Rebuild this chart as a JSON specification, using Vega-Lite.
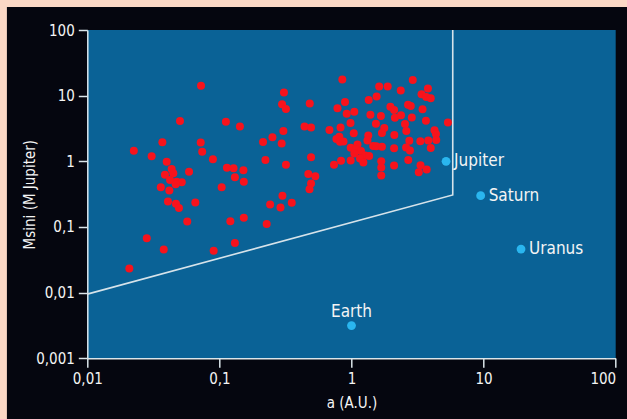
{
  "$schema": "https://vega.github.io/schema/vega-lite/v6.json",
  "width": 528.4,
  "height": 328.3,
  "autosize": {"type": "none"},
  "padding": {"left": 87.3, "top": 30, "right": 11.3, "bottom": 60.7},
  "background": "#05060f",
  "config": {
    "view": {"stroke": null, "fill": "#0a6296"},
    "font": "DejaVu Sans Condensed, DejaVu Sans, sans-serif",
    "axis": {
      "grid": false,
      "domainColor": "#dbe5ea",
      "domainWidth": 1.5,
      "tickColor": "#dbe5ea",
      "tickWidth": 1.5,
      "tickSize": 9,
      "labelColor": "#f4f4f4",
      "labelFontSize": 15,
      "labelPadding": 4,
      "labelFlush": false,
      "titleColor": "#f4f4f4",
      "titleFontSize": 15,
      "titleFontWeight": "normal"
    },
    "axisX": {"titlePadding": 9},
    "axisY": {"titlePadding": -2}
  },
  "datasets": {
    "exoplanets": [
      {"a": 0.0208, "m": 0.0234}, {"a": 0.0225, "m": 1.45}, {"a": 0.0282, "m": 0.0672}, {"a": 0.0307, "m": 1.19},
      {"a": 0.037, "m": 1.95}, {"a": 0.0379, "m": 0.0454}, {"a": 0.0399, "m": 0.986}, {"a": 0.0435, "m": 0.763},
      {"a": 0.0387, "m": 0.625}, {"a": 0.0448, "m": 0.657}, {"a": 0.0423, "m": 0.519}, {"a": 0.0475, "m": 0.489},
      {"a": 0.0519, "m": 0.479}, {"a": 0.036, "m": 0.402}, {"a": 0.0418, "m": 0.359}, {"a": 0.0467, "m": 0.446},
      {"a": 0.0503, "m": 4.11}, {"a": 0.0589, "m": 0.695}, {"a": 0.0408, "m": 0.244}, {"a": 0.0469, "m": 0.226},
      {"a": 0.0494, "m": 0.195}, {"a": 0.0657, "m": 0.236}, {"a": 0.0571, "m": 0.121}, {"a": 0.0726, "m": 14.2},
      {"a": 0.0722, "m": 1.93}, {"a": 0.0741, "m": 1.4}, {"a": 0.0893, "m": 1.08}, {"a": 0.0905, "m": 0.0435},
      {"a": 0.112, "m": 4.01}, {"a": 0.143, "m": 3.39}, {"a": 0.114, "m": 0.799}, {"a": 0.128, "m": 0.785},
      {"a": 0.152, "m": 0.732}, {"a": 0.131, "m": 0.571}, {"a": 0.153, "m": 0.488}, {"a": 0.104, "m": 0.402},
      {"a": 0.121, "m": 0.122}, {"a": 0.153, "m": 0.138}, {"a": 0.131, "m": 0.057}, {"a": 0.228, "m": 0.111},
      {"a": 0.242, "m": 0.22}, {"a": 0.29, "m": 0.198}, {"a": 0.353, "m": 0.233}, {"a": 0.3, "m": 0.299},
      {"a": 0.223, "m": 1.05}, {"a": 0.214, "m": 1.97}, {"a": 0.252, "m": 2.33}, {"a": 0.296, "m": 1.87},
      {"a": 0.305, "m": 2.89}, {"a": 0.308, "m": 11.2}, {"a": 0.298, "m": 7.38}, {"a": 0.319, "m": 6.26},
      {"a": 0.319, "m": 0.885}, {"a": 0.483, "m": 7.59}, {"a": 0.441, "m": 3.39}, {"a": 0.494, "m": 3.27},
      {"a": 0.494, "m": 1.15}, {"a": 0.471, "m": 0.641}, {"a": 0.532, "m": 0.591}, {"a": 0.494, "m": 0.459},
      {"a": 0.481, "m": 0.376}, {"a": 0.852, "m": 17.7}, {"a": 0.893, "m": 8.0}, {"a": 0.783, "m": 6.41},
      {"a": 0.92, "m": 5.31}, {"a": 1.05, "m": 5.69}, {"a": 1.35, "m": 8.58}, {"a": 1.55, "m": 9.7},
      {"a": 1.39, "m": 5.13}, {"a": 0.681, "m": 3.0}, {"a": 0.826, "m": 3.27}, {"a": 0.983, "m": 3.83},
      {"a": 1.04, "m": 2.67}, {"a": 0.809, "m": 2.37}, {"a": 1.34, "m": 2.47}, {"a": 1.32, "m": 2.07},
      {"a": 1.46, "m": 1.71}, {"a": 0.769, "m": 2.19}, {"a": 0.818, "m": 1.99}, {"a": 0.87, "m": 2.0},
      {"a": 0.986, "m": 1.61}, {"a": 1.11, "m": 1.8}, {"a": 1.08, "m": 1.52}, {"a": 1.18, "m": 1.44},
      {"a": 1.05, "m": 1.32}, {"a": 1.27, "m": 1.23}, {"a": 1.16, "m": 1.1}, {"a": 0.986, "m": 1.03},
      {"a": 1.23, "m": 0.959}, {"a": 1.36, "m": 1.2}, {"a": 0.833, "m": 1.02}, {"a": 0.737, "m": 0.888},
      {"a": 1.62, "m": 13.8}, {"a": 1.88, "m": 13.8}, {"a": 2.91, "m": 17.3}, {"a": 3.79, "m": 12.8},
      {"a": 2.36, "m": 12.0}, {"a": 3.39, "m": 10.5}, {"a": 3.68, "m": 9.53}, {"a": 3.98, "m": 9.11},
      {"a": 1.97, "m": 6.79}, {"a": 2.1, "m": 6.04}, {"a": 2.68, "m": 7.25}, {"a": 2.81, "m": 6.95},
      {"a": 3.45, "m": 6.19}, {"a": 1.67, "m": 4.9}, {"a": 2.13, "m": 4.61}, {"a": 2.37, "m": 5.04},
      {"a": 2.86, "m": 4.65}, {"a": 3.66, "m": 4.15}, {"a": 5.37, "m": 3.9}, {"a": 1.53, "m": 3.74},
      {"a": 1.77, "m": 3.21}, {"a": 2.54, "m": 3.7}, {"a": 2.6, "m": 2.89}, {"a": 4.25, "m": 2.97},
      {"a": 4.36, "m": 2.61}, {"a": 1.7, "m": 2.7}, {"a": 2.11, "m": 2.52}, {"a": 2.74, "m": 2.06},
      {"a": 3.32, "m": 2.02}, {"a": 3.81, "m": 2.07}, {"a": 4.38, "m": 2.11}, {"a": 1.54, "m": 1.69},
      {"a": 1.7, "m": 1.67}, {"a": 2.1, "m": 1.58}, {"a": 2.59, "m": 1.62}, {"a": 2.77, "m": 1.46},
      {"a": 3.98, "m": 1.59}, {"a": 1.68, "m": 1.0}, {"a": 1.68, "m": 0.805}, {"a": 2.1, "m": 0.863},
      {"a": 2.69, "m": 1.05}, {"a": 3.33, "m": 0.869}, {"a": 3.71, "m": 0.748}, {"a": 3.23, "m": 0.682},
      {"a": 1.68, "m": 0.608}
    ],
    "solarSystem": [
      {"name": "Earth", "a": 1.0, "m": 0.00315},
      {"name": "Jupiter", "a": 5.2, "m": 1.0},
      {"name": "Saturn", "a": 9.5, "m": 0.3},
      {"name": "Uranus", "a": 19.2, "m": 0.046}
    ],
    "detectionLimit": [
      {"step": 1, "a": 0.01, "m": 0.0095},
      {"step": 2, "a": 5.84, "m": 0.307},
      {"step": 3, "a": 5.84, "m": 100}
    ]
  },
  "layer": [
    {
      "description": "light border along the top and left of the figure",
      "data": {"values": [{}]},
      "mark": {"type": "rect", "filled": false, "stroke": "#fbd8c6", "strokeWidth": 14},
      "encoding": {
        "x": {
          "datum": 0.00218, "type": "quantitative",
          "scale": {"type": "log", "domain": [0.01, 100]},
          "axis": {"title": "a (A.U.)", "values": [0.01, 0.1, 1, 10, 100], "labelExpr": "replace(format(datum.value, '~g'), '.', ',')", "labelAlign": {"condition": {"test": "datum.value >= 100", "value": "right"}, "value": "center"}}
        },
        "x2": {"datum": 160},
        "y": {
          "datum": 286, "type": "quantitative",
          "scale": {"type": "log", "domain": [0.001, 100]},
          "axis": {"title": "Msini (M Jupiter)", "values": [0.001, 0.01, 0.1, 1, 10, 100], "labelExpr": "replace(format(datum.value, '~g'), '.', ',')"}
        },
        "y2": {"datum": 0.00005}
      }
    },
    {
      "data": {"name": "detectionLimit"},
      "mark": {"type": "line", "color": "#d6e3ea", "strokeWidth": 1.6},
      "encoding": {
        "x": {
          "field": "a", "type": "quantitative",
          "scale": {"type": "log", "domain": [0.01, 100]},
          "axis": {"title": "a (A.U.)", "values": [0.01, 0.1, 1, 10, 100], "labelExpr": "replace(format(datum.value, '~g'), '.', ',')", "labelAlign": {"condition": {"test": "datum.value >= 100", "value": "right"}, "value": "center"}}
        },
        "y": {
          "field": "m", "type": "quantitative",
          "scale": {"type": "log", "domain": [0.001, 100]},
          "axis": {"title": "Msini (M Jupiter)", "values": [0.001, 0.01, 0.1, 1, 10, 100], "labelExpr": "replace(format(datum.value, '~g'), '.', ',')"}
        },
        "order": {"field": "step"}
      }
    },
    {
      "data": {"name": "exoplanets"},
      "mark": {"type": "circle", "color": "#f7131c", "opacity": 1, "size": 64},
      "encoding": {
        "x": {
          "field": "a", "type": "quantitative",
          "scale": {"type": "log", "domain": [0.01, 100]},
          "axis": {"title": "a (A.U.)", "values": [0.01, 0.1, 1, 10, 100], "labelExpr": "replace(format(datum.value, '~g'), '.', ',')", "labelAlign": {"condition": {"test": "datum.value >= 100", "value": "right"}, "value": "center"}}
        },
        "y": {
          "field": "m", "type": "quantitative",
          "scale": {"type": "log", "domain": [0.001, 100]},
          "axis": {"title": "Msini (M Jupiter)", "values": [0.001, 0.01, 0.1, 1, 10, 100], "labelExpr": "replace(format(datum.value, '~g'), '.', ',')"}
        }
      }
    },
    {
      "data": {"name": "solarSystem"},
      "mark": {"type": "circle", "color": "#2ab6ef", "opacity": 1, "size": 78},
      "encoding": {
        "x": {
          "field": "a", "type": "quantitative",
          "scale": {"type": "log", "domain": [0.01, 100]},
          "axis": {"title": "a (A.U.)", "values": [0.01, 0.1, 1, 10, 100], "labelExpr": "replace(format(datum.value, '~g'), '.', ',')", "labelAlign": {"condition": {"test": "datum.value >= 100", "value": "right"}, "value": "center"}}
        },
        "y": {
          "field": "m", "type": "quantitative",
          "scale": {"type": "log", "domain": [0.001, 100]},
          "axis": {"title": "Msini (M Jupiter)", "values": [0.001, 0.01, 0.1, 1, 10, 100], "labelExpr": "replace(format(datum.value, '~g'), '.', ',')"}
        }
      }
    },
    {
      "data": {"name": "solarSystem"},
      "transform": [{"filter": "datum.name !== 'Earth'"}],
      "mark": {"type": "text", "align": "left", "baseline": "middle", "dx": 8, "color": "#f4f4f4", "fontSize": 17},
      "encoding": {
        "x": {
          "field": "a", "type": "quantitative",
          "scale": {"type": "log", "domain": [0.01, 100]},
          "axis": {"title": "a (A.U.)", "values": [0.01, 0.1, 1, 10, 100], "labelExpr": "replace(format(datum.value, '~g'), '.', ',')", "labelAlign": {"condition": {"test": "datum.value >= 100", "value": "right"}, "value": "center"}}
        },
        "y": {
          "field": "m", "type": "quantitative",
          "scale": {"type": "log", "domain": [0.001, 100]},
          "axis": {"title": "Msini (M Jupiter)", "values": [0.001, 0.01, 0.1, 1, 10, 100], "labelExpr": "replace(format(datum.value, '~g'), '.', ',')"}
        },
        "text": {"field": "name"}
      }
    },
    {
      "data": {"name": "solarSystem"},
      "transform": [{"filter": "datum.name === 'Earth'"}],
      "mark": {"type": "text", "align": "center", "baseline": "middle", "dy": -14, "color": "#f4f4f4", "fontSize": 17},
      "encoding": {
        "x": {
          "field": "a", "type": "quantitative",
          "scale": {"type": "log", "domain": [0.01, 100]},
          "axis": {"title": "a (A.U.)", "values": [0.01, 0.1, 1, 10, 100], "labelExpr": "replace(format(datum.value, '~g'), '.', ',')", "labelAlign": {"condition": {"test": "datum.value >= 100", "value": "right"}, "value": "center"}}
        },
        "y": {
          "field": "m", "type": "quantitative",
          "scale": {"type": "log", "domain": [0.001, 100]},
          "axis": {"title": "Msini (M Jupiter)", "values": [0.001, 0.01, 0.1, 1, 10, 100], "labelExpr": "replace(format(datum.value, '~g'), '.', ',')"}
        },
        "text": {"field": "name"}
      }
    }
  ]
}
